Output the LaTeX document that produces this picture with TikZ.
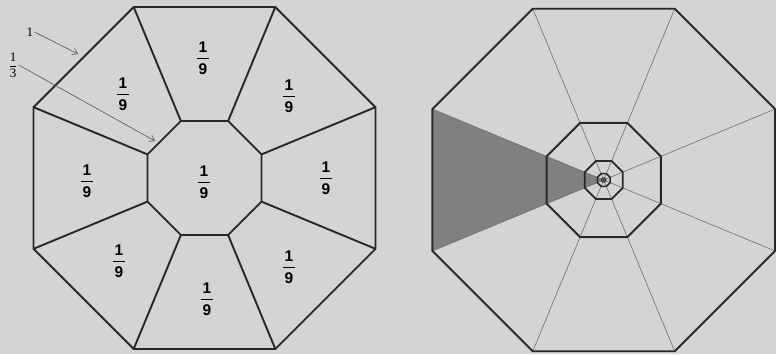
\documentclass[tikz,border=0pt]{standalone}
\usepackage{amsmath}
\usepackage{fontspec}
\setmainfont{Liberation Sans}
\newfontfamily\annfont{Liberation Serif}
\usetikzlibrary{arrows.meta}
\definecolor{bg}{RGB}{212,212,212}
\definecolor{ln}{RGB}{40,40,40}
\definecolor{spk}{RGB}{110,110,110}
\definecolor{sh}{RGB}{128,128,128}
\newcommand{\ninthfrac}{$\genfrac{}{}{1.4pt}{0}{\mbox{\kern2pt\bfseries 1\kern2pt}}{\mbox{\kern2pt\bfseries 9\kern2pt}}$}
\begin{document}
\begin{tikzpicture}[x=1pt,y=-1pt,
  edge/.style={draw=ln,line width=1.9pt,line join=round},
  thinspoke/.style={draw=spk,line width=0.6pt},
  frac/.style={inner sep=0pt,font=\fontsize{15.5}{15.5}\selectfont},
  ann/.style={inner sep=1pt,font=\annfont\fontsize{13}{13}\selectfont},
  annarrow/.style={draw=ln!80,line width=0.6pt,-{Straight Barb[length=5pt,width=7pt]}}]
\fill[bg] (0,0) rectangle (776,354);
\useasboundingbox (0,0) rectangle (776,354);
% ---------- left octagon ----------
\def\cxA{204.5}\def\cyA{178}\def\RA{185.1}
\foreach \k in {0,...,7}{
  \coordinate (LO\k) at ({\cxA+\RA*cos(22.5+45*\k)},{\cyA+\RA*sin(22.5+45*\k)});
  \coordinate (LI\k) at ({\cxA+\RA/3*cos(22.5+45*\k)},{\cyA+\RA/3*sin(22.5+45*\k)});
}
\draw[edge] (LO0)--(LO1)--(LO2)--(LO3)--(LO4)--(LO5)--(LO6)--(LO7)--cycle;
\draw[edge] (LI0)--(LI1)--(LI2)--(LI3)--(LI4)--(LI5)--(LI6)--(LI7)--cycle;
\foreach \k in {0,...,7}{\draw[edge] (LI\k)--(LO\k);}
% labels
\node[frac] (fc) at (204,182) {\ninthfrac};
\node[frac] (ft) at (203,58) {\ninthfrac};
\node[frac] (ftl) at (123,94) {\ninthfrac};
\node[frac] (ftr) at (289,96) {\ninthfrac};
\node[frac] (fl) at (87,181) {\ninthfrac};
\node[frac] (fr) at (326,178) {\ninthfrac};
\node[frac] (fbl) at (119,261) {\ninthfrac};
\node[frac] (fbr) at (289,267) {\ninthfrac};
\node[frac] (fb) at (207,299) {\ninthfrac};
% annotations
\node[ann] (one) at (30,32) {1};
\node[ann] (third) at (13,65) {$\genfrac{}{}{0.6pt}{0}{\mbox{\annfont 1}}{\mbox{\annfont 3}}$};
\coordinate (oneend) at (78,54);
\coordinate (thirdend) at (155,141);
\draw[annarrow] (one.east) -- (oneend);
\draw[annarrow] (third.east) -- (thirdend);
% ---------- right octagon ----------
\def\cxB{603.7}\def\cyB{180}\def\RB{185.4}
\coordinate (C) at (\cxB,\cyB);
\foreach \k in {0,...,7}{
  \coordinate (RO\k) at ({\cxB+\RB*cos(22.5+45*\k)},{\cyB+\RB*sin(22.5+45*\k)});
}
\fill[sh] (RO3)--(RO4)--(C)--cycle;
\foreach \k in {0,...,7}{\draw[thinspoke] (RO\k)--(C);}
\foreach \s/\w in {1/1.9,3/1.9,9/1.8,27/1.6,81/0.9,243/0.5}{
  \foreach \k in {0,...,7}{
    \coordinate (P\k) at ({\cxB+\RB/\s*cos(22.5+45*\k)},{\cyB+\RB/\s*sin(22.5+45*\k)});
  }
  \draw[draw=ln,line width=\w pt,line join=round]
    (P0)--(P1)--(P2)--(P3)--(P4)--(P5)--(P6)--(P7)--cycle;
}
\end{tikzpicture}
\end{document}
